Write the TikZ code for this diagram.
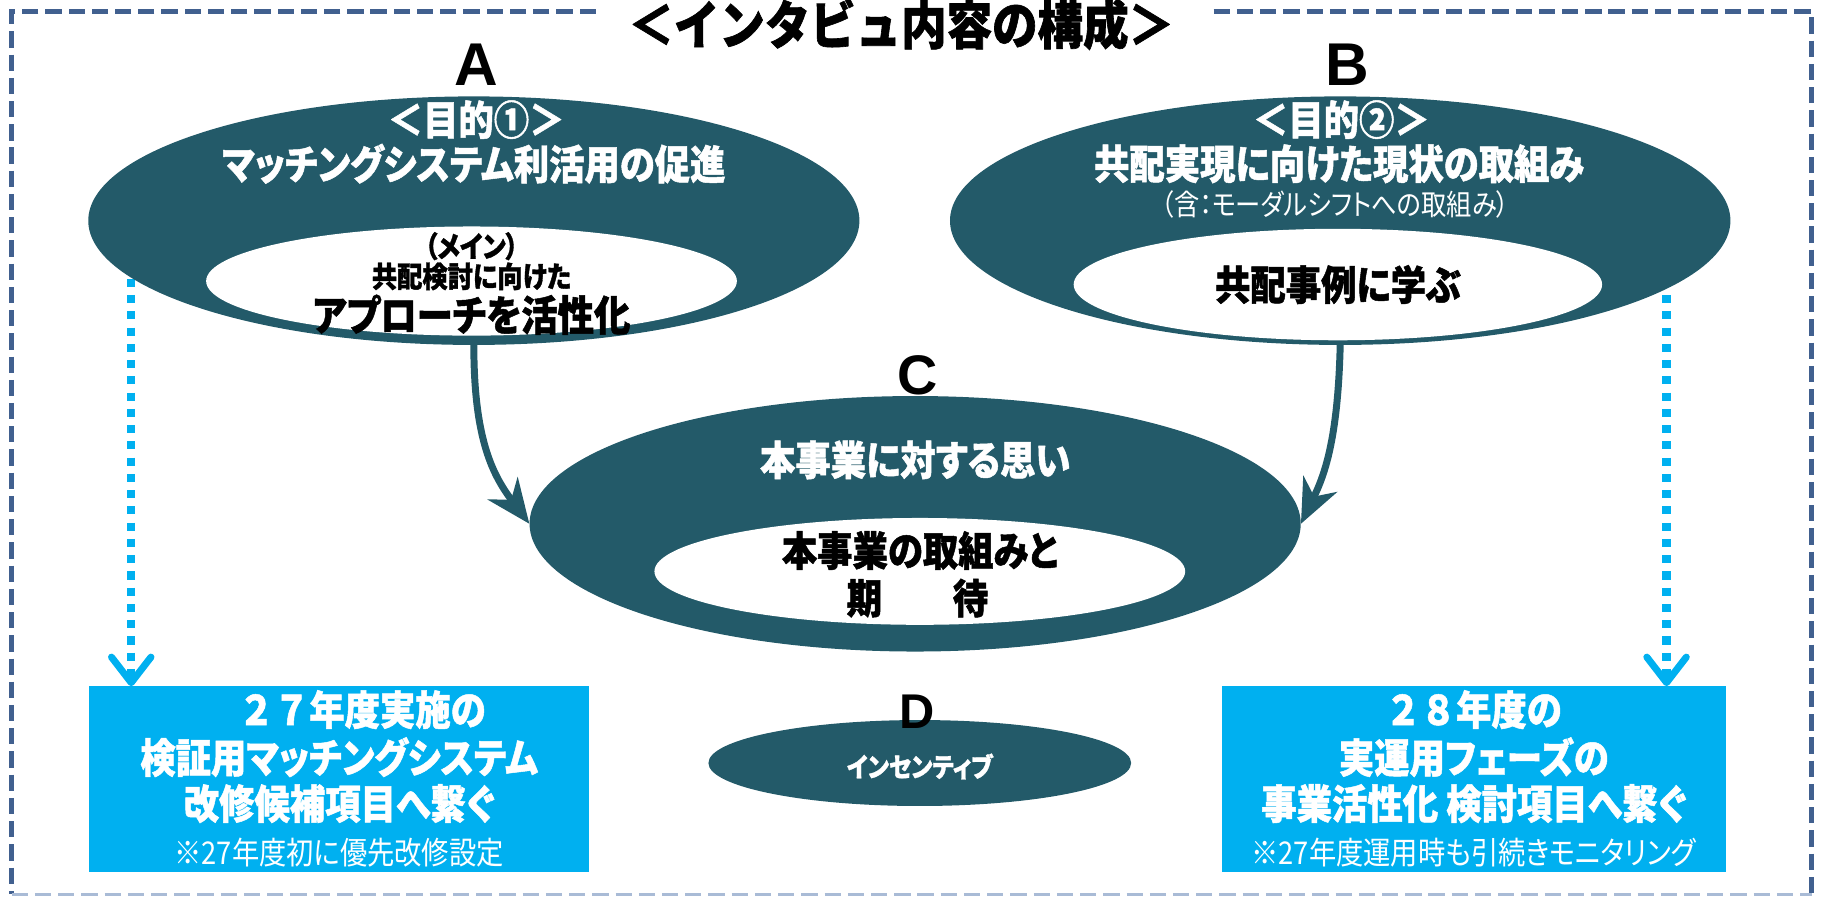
\documentclass[tikz,border=0pt]{standalone}
\usepackage{fontspec}
\newfontfamily\jp[FakeStretch=0.87,RawFeature=+palt,BoldFeatures={FakeBold=1.2}]{Noto Sans CJK JP}
\newfontfamily\jpn[FakeStretch=0.87,BoldFeatures={FakeBold=1.2}]{Noto Sans CJK JP}
\newfontfamily\lat{Liberation Sans}
\usetikzlibrary{shapes.geometric,arrows.meta}
\definecolor{tealdk}{HTML}{235A69}
\definecolor{sky}{HTML}{00B0F0}
\definecolor{framec}{HTML}{41608F}
\definecolor{framelt}{HTML}{A9BBD6}
\begin{document}
\begin{tikzpicture}[x=1pt,y=-1pt,
  oval/.style={ellipse,inner sep=0,fill=tealdk,draw=none},
  inoval/.style={ellipse,inner sep=0,fill=white,draw=none},
  bluebox/.style={rectangle,inner sep=0,fill=sky,draw=none},
  txt/.style={inner sep=0,anchor=center},
  wbig/.style={txt,text=white,font=\jp\bfseries\fontsize{35}{40}\selectfont},
  wbign/.style={txt,text=white,font=\jpn\bfseries\fontsize{35}{40}\selectfont},
  kbig/.style={txt,text=black,font=\jp\bfseries\fontsize{35}{40}\selectfont},
  ksmall/.style={txt,text=black,font=\jp\bfseries\fontsize{25}{28}\selectfont},
  wnote/.style={txt,text=white,font=\jp\fontsize{27}{30}\selectfont},
  letter/.style={txt,text=black,font=\lat\bfseries\fontsize{52}{52}\selectfont},
  dotarrow/.style={sky,line width=7,dash pattern=on 7 off 7,
    -{Straight Barb[length=22,width=34,line width=6,round]}},
  curvearrow/.style={tealdk,line width=6,-{Stealth[length=38,width=32,inset=12]}},
  framedash/.style={framec,line width=4,dash pattern=on 14 off 6}
]
\useasboundingbox (0,0) rectangle (1568,772);

% frame
\draw[framedash] (513,10) -- (10,10) -- (10,770);
\draw[framedash] (1045,10) -- (1560,10) -- (1560,770);
\draw[framelt,line width=2.5,dash pattern=on 14 off 6] (10,770) -- (1560,770);

% title
\node[txt,font=\jpn\bfseries\fontsize{45}{45}\selectfont] (title) at (776,21) {＜インタビュ内容の構成＞};

% boxes
\node[bluebox,minimum width=430,minimum height=160] (L) at (292,671) {};
\node[bluebox,minimum width=434,minimum height=160] (R) at (1269,671) {};

% dotted arrows
\coordinate (ls) at (113,240);
\coordinate (rs) at (1435,240);
\draw[dotarrow] (ls) -- (ls |- L.north);
\draw[dotarrow] (rs) -- (rs |- R.north);

% ellipses
\node[oval,minimum width=664,minimum height=214] (A) at (408,190) {};
\node[inoval,minimum width=457,minimum height=94] (Ai) at (406,242) {};
\node[oval,minimum width=672,minimum height=214] (B) at (1154,190) {};
\node[inoval,minimum width=455,minimum height=96] (Bi) at (1152,245) {};
\node[oval,minimum width=664,minimum height=220] (C) at (788,451) {};
\node[inoval,minimum width=457,minimum height=92] (Ci) at (792,492) {};
\node[oval,minimum width=364,minimum height=74] (D) at (792,657) {};

% curved arrows
\draw[curvearrow] (A.south) .. controls (408,380) and (425,410) .. (C.west);
\draw[curvearrow] (B.south) .. controls (1152,380) and (1140,410) .. (C.east);

% letters
\node[letter] (la) at (410,56) {A};
\node[letter] (lb) at (1160,56) {B};
\node[letter,font=\lat\bfseries\fontsize{48}{48}\selectfont] (lc) at (790,323) {C};
\node[letter,font=\lat\bfseries\fontsize{42}{42}\selectfont] (ld) at (790,613) {D};

% A texts
\node[wbign] (a1) at (410,103) {＜目的①＞};
\node[wbig] (a2) at (408,141) {マッチングシステム利活用の促進};
\node[ksmall] (a3) at (406,212) {（メイン）};
\node[ksmall] (a4) at (406,238) {共配検討に向けた};
\node[kbig,font=\jp\bfseries\fontsize{36}{40}\selectfont] (a5) at (406,271) {アプローチを活性化};

% B texts
\node[wbign] (b1) at (1155,103) {＜目的②＞};
\node[wbig] (b2) at (1153,141) {共配実現に向けた現状の取組み};
\node[txt,text=white,font=\jp\fontsize{25}{27}\selectfont] (b3) at (1150,176) {（含：モーダルシフトへの取組み）};
\node[kbig] (b4) at (1152,245) {共配事例に学ぶ};

% C texts
\node[wbig] (c1) at (788,396) {本事業に対する思い};
\node[kbig] (c2) at (792,474) {本事業の取組みと};
\node[kbig] (c3) at (790,515) {期　　待};

% D text
\node[txt,text=white,font=\jp\bfseries\fontsize{23}{25}\selectfont] (d1) at (792,660) {インセンティブ};

% left box texts
\node[wbign] (l1) at (312,611) {２７年度実施の};
\node[wbig] (l2) at (292,652) {検証用マッチングシステム};
\node[wbig] (l3) at (292,692) {改修候補項目へ繋ぐ};
\node[wnote] (l4) at (292,734) {※27年度初に優先改修設定};

% right box texts
\node[wbign] (r1) at (1269,611) {２８年度の};
\node[wbig] (r2) at (1269,652) {実運用フェーズの};
\node[wbig] (r3) at (1269,692) {事業活性化 検討項目へ繋ぐ};
\node[wnote] (r4) at (1269,734) {※27年度運用時も引続きモニタリング};
\end{tikzpicture}
\end{document}
